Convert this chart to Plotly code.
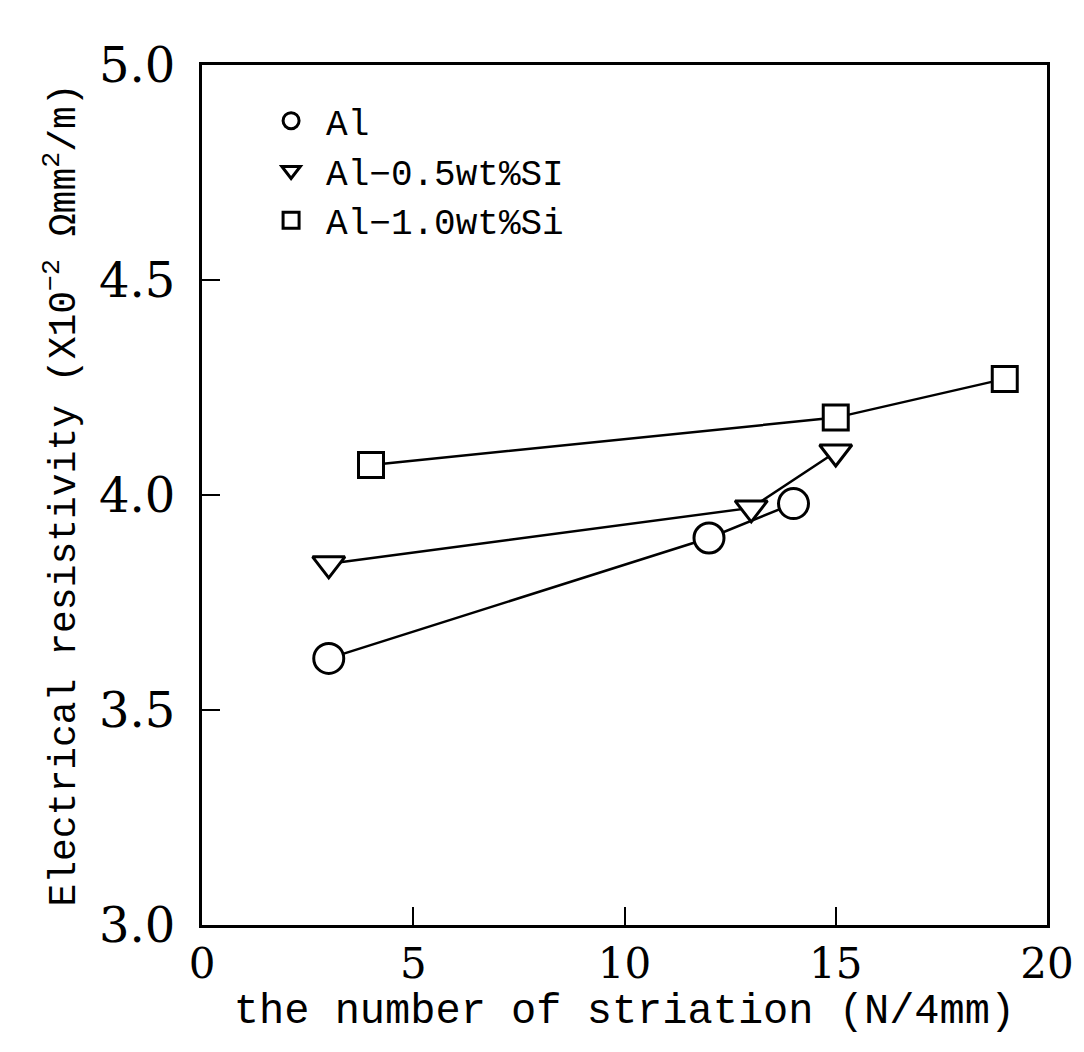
import plotly.graph_objects as go

# Data
al_x = [3, 12, 14]
al_y = [3.62, 3.90, 3.98]
si05_x = [3, 13, 15]
si05_y = [3.84, 3.97, 4.10]
si10_x = [4, 15, 19]
si10_y = [4.07, 4.18, 4.27]

names = ["Al", "Al\u22120.5wt%SI", "Al\u22121.0wt%Si"]
x_ticks = [0, 5, 10, 15, 20]
x_ticktext = ["0", "5", "10", "15", "20"]
y_ticks = [3.0, 3.5, 4.0, 4.5, 5.0]
y_ticktext = ["3.0", "3.5", "4.0", "4.5", "5.0"]

SERIF = "DejaVu Serif"
MONO = "Liberation Mono"

fig = go.Figure()
series = [
    (al_x, al_y, names[0], "circle", 30),
    (si05_x, si05_y, names[1], "triangle-down", 28),
    (si10_x, si10_y, names[2], "square", 25),
]
for i, (xs, ys, nm, sym, sz) in enumerate(series):
    fig.add_trace(go.Scatter(
        x=xs, y=ys, mode="lines", showlegend=False, legendgroup=str(i),
        line=dict(color="black", width=2.5), hoverinfo="skip",
    ))
for i, (xs, ys, nm, sym, sz) in enumerate(series):
    fig.add_trace(go.Scatter(
        x=xs, y=ys, name=nm, mode="markers", legendgroup=str(i),
        marker=dict(symbol=sym, size=sz, color="white",
                    line=dict(color="black", width=3)),
    ))

axis_common = dict(
    showline=True, linecolor="black", linewidth=3, mirror=True,
    ticks="inside", ticklen=18, tickwidth=2, tickcolor="black",
    showgrid=False, zeroline=False,
)

fig.update_layout(
    width=1084, height=1052,
    paper_bgcolor="white", plot_bgcolor="white",
    margin=dict(l=194, r=45, t=57, b=135),
    font=dict(family=SERIF, color="black"),
    showlegend=True,
    legend=dict(
        x=0.064, y=0.970, xanchor="left", yanchor="top",
        bgcolor="rgba(0,0,0,0)", font=dict(family=MONO, size=36),
        itemsizing="trace", tracegroupgap=0, itemwidth=60,
    ),
    xaxis=dict(
        range=[0, 20], tickvals=x_ticks, ticktext=x_ticktext,
        tickfont=dict(family=SERIF, size=42), ticklabelstandoff=0,
        title=dict(text="the number of striation (N/4mm)",
                   font=dict(family=MONO, size=42), standoff=0),
        **axis_common,
    ),
    yaxis=dict(
        range=[3.0, 5.0], tickvals=y_ticks, ticktext=y_ticktext,
        tickfont=dict(family=SERIF, size=48), ticklabelstandoff=14,
        title=dict(text="Electrical resistivity (X10<sup>\u22122</sup> \u03a9mm<sup>2</sup>/m)",
                   font=dict(family=MONO, size=38), standoff=12),
        **axis_common,
    ),
)

fig.write_html("out.html")
